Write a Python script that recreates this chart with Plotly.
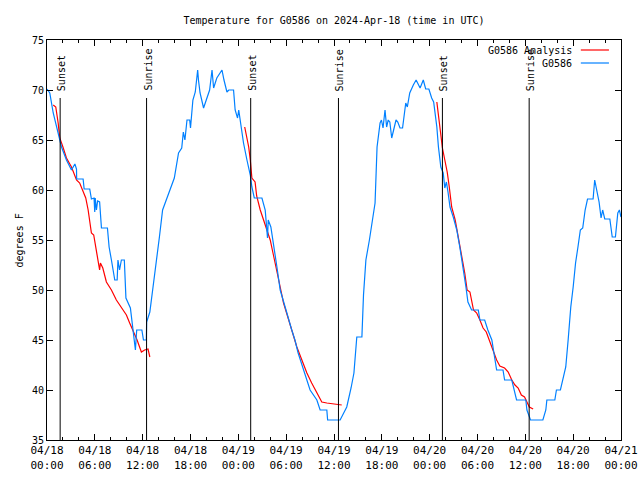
import plotly.graph_objects as go

# ---- data (hours since 2024-04-18 00:00 UTC, degrees F) ----
obs_hours = [0.0, 0.35, 0.78, 1.6, 1.82, 2.44, 3.07, 3.5, 3.7, 3.72, 4.53, 4.66, 5.36, 5.57, 5.9, 5.99, 6.05, 6.2, 6.35, 6.6,
             6.83, 7.58, 7.79, 8.08, 8.5, 8.8, 8.9, 9.1, 9.33, 9.7, 9.9, 10.46, 10.8, 11.09, 11.25, 11.9, 12.1, 12.46, 12.5,
             12.9, 13.3, 13.6, 13.8, 14.1, 14.5, 15.06, 15.5, 15.97, 16.5, 16.9, 17.1, 17.3, 17.56, 17.9, 18.0, 18.3, 18.6,
             18.9, 19.0, 19.2, 19.64, 20.07, 20.4, 20.7, 20.9, 21.3, 21.95, 22.2, 22.57, 22.8, 23.4, 23.6, 23.9, 24.05, 24.3,
             24.65, 25.08, 25.5, 25.7, 26.0, 26.96, 27.37, 27.66, 27.75, 28.08, 28.5, 28.84, 29.25, 29.67, 30.09, 30.7, 31.1,
             31.5, 32.17, 32.6, 33.0, 33.85, 34.26, 35.1, 35.2, 36.77, 37.4, 37.6, 38.14, 38.5, 38.86, 39.5, 39.7, 40.0,
             40.44, 40.74, 41.15, 41.4, 41.78, 41.95, 42.15, 42.4, 42.6, 42.8, 43.0, 43.24, 43.45, 43.78, 44.0, 44.28, 44.6,
             44.8, 45.0, 45.2, 45.5, 45.95, 46.3, 46.55, 46.8, 47.0, 47.2, 47.5, 47.9, 48.25, 48.5, 48.9, 49.1, 49.4, 49.7,
             49.9, 50.1, 50.3, 50.55, 50.96, 51.4, 51.8, 52.2, 52.55, 52.8, 53.26, 54.1, 54.3, 54.9, 55.3, 55.8, 56.2, 56.4,
             57.2, 57.4, 58.3, 58.56, 58.9, 60.06, 60.2, 60.65, 62.2, 62.57, 62.7, 63.7, 63.9, 64.4, 64.7, 65.07, 65.37, 65.7,
             66.0, 66.3, 66.6, 66.9, 67.2, 67.5, 67.8, 68.5, 68.7, 68.9, 69.25, 69.5, 69.7, 69.96, 70.6, 70.9, 71.3, 71.6,
             71.8, 72.0]
obs_temps = [70.1, 69.7, 67.7, 65.0, 64.3, 63.0, 62.0, 62.6, 62.1, 61.1, 61.1, 60.1, 60.1, 59.1, 59.2, 57.8, 59.2, 58.0, 58.9, 58.8,
             56.2, 56.2, 54.3, 53.0, 51.0, 51.0, 53.0, 52.0, 53.0, 53.0, 49.2, 48.2, 46.0, 44.0, 46.0, 46.0, 45.0, 45.0, 46.8,
             47.8, 50.3, 52.0, 53.3, 55.3, 58.0, 59.2, 60.2, 61.2, 63.7, 64.2, 65.8, 65.0, 67.0, 67.0, 66.2, 69.0, 69.8,
             72.0, 71.0, 69.7, 68.2, 69.2, 70.0, 72.0, 70.2, 71.2, 72.0, 71.0, 69.8, 70.0, 70.0, 68.0, 67.2, 68.0, 66.5,
             64.7, 63.0, 61.5, 60.3, 59.2, 59.2, 58.0, 55.2, 57.0, 56.3, 54.3, 52.3, 50.0, 48.7, 47.7, 46.0, 45.0,
             43.7, 42.0, 41.0, 40.0, 39.0, 38.0, 38.0, 37.0, 37.0, 38.0, 38.3, 40.2, 41.7, 45.3, 45.3, 49.5, 53.0,
             55.0, 56.7, 58.7, 64.3, 66.7, 67.0, 66.2, 68.0, 66.3, 67.0, 66.8, 65.2, 66.0, 67.0, 66.8, 66.2, 66.2,
             67.7, 68.7, 68.3, 69.7, 70.5, 71.0, 70.6, 70.2, 70.6, 71.0, 70.1, 70.1, 69.2, 68.8, 66.3, 64.3, 62.3, 61.7,
             60.2, 60.8, 59.8, 58.3, 57.3, 56.0, 54.2, 52.3, 50.3, 48.8, 48.0, 48.0, 47.0, 47.0, 46.0, 45.0, 43.0, 42.0,
             42.0, 41.0, 41.0, 40.0, 39.0, 39.0, 38.0, 37.0, 37.0, 38.0, 39.0, 39.0, 40.0, 40.0, 41.0, 42.3, 45.0, 48.3,
             50.3, 52.7, 54.3, 56.0, 56.2, 58.0, 59.1, 59.1, 61.0, 60.3, 58.8, 57.2, 58.0, 57.1, 57.1, 55.3, 55.3, 57.7,
             58.0, 57.3]

ana_hours = [0.78, 1.1, 1.4, 1.6, 2.0, 2.44, 3.07, 3.7, 4.1, 4.5, 4.86, 5.16, 5.36, 5.57, 5.86, 6.2, 6.4, 6.6, 6.7, 7.0, 7.45,
             8.08, 8.7, 9.33, 9.96, 10.37, 10.87, 11.3, 11.84, 12.25, 12.67, 12.9,
             None,
             24.8, 25.08, 25.3, 25.5, 25.7, 26.1, 26.3, 26.75, 27.16, 27.58, 28.0, 28.4, 28.84, 29.25, 29.67, 30.09, 30.7,
             31.34, 31.97, 32.6, 33.2, 33.85, 34.47, 35.1, 36.1, 36.97,
             None,
             48.9, 49.2, 49.4, 49.6, 49.9, 50.2, 50.46, 50.76, 51.2, 51.6, 52.0, 52.4, 52.7, 53.05, 53.5, 53.9, 54.3, 54.7,
             55.1, 55.55, 55.97, 56.4, 56.8, 57.4, 57.85, 58.3, 58.7, 59.1, 59.5, 59.9, 60.2, 60.5, 60.98]
ana_temps = [68.5, 68.3, 66.7, 65.2, 64.3, 63.2, 62.3, 61.0, 60.7, 60.0, 59.2, 58.0, 57.0, 55.7, 55.5, 54.0, 52.8, 52.0, 52.7, 52.2, 50.8,
             50.0, 49.0, 48.3, 47.5, 46.7, 45.8, 45.0, 43.8, 44.0, 44.1, 43.3,
             None,
             66.3, 65.3, 64.3, 63.0, 61.2, 60.8, 59.4, 58.0, 57.0, 56.0, 55.0, 53.5, 52.0, 50.3, 48.7, 47.5, 46.0,
             44.3, 43.0, 41.7, 40.7, 39.7, 38.8, 38.7, 38.6, 38.5,
             None,
             68.8, 66.7, 65.3, 64.2, 63.0, 61.8, 60.3, 58.3, 57.0, 55.3, 53.7, 51.7, 50.0, 49.8, 48.0, 47.7, 47.0, 46.2,
             45.8, 44.8, 44.0, 43.0, 42.4, 42.2, 41.8, 41.0, 40.5, 40.2, 39.5, 39.3, 38.8, 38.3, 38.1]

event_hours = [1.65, 12.49, 25.55, 36.56, 49.6, 60.48]
event_labels = ["Sunset", "Sunrise", "Sunset", "Sunrise", "Sunset", "Sunrise"]
event_line_top = 69.2

tick_hours = [0, 6, 12, 18, 24, 30, 36, 42, 48, 54, 60, 66, 72]
tick_labels = ["04/18<br>00:00", "04/18<br>06:00", "04/18<br>12:00", "04/18<br>18:00",
               "04/19<br>00:00", "04/19<br>06:00", "04/19<br>12:00", "04/19<br>18:00",
               "04/20<br>00:00", "04/20<br>06:00", "04/20<br>12:00", "04/20<br>18:00",
               "04/21<br>00:00"]
y_ticks = [35, 40, 45, 50, 55, 60, 65, 70, 75]

series_names = ["G0586 Analysis", "G0586"]
series_colors = ["#ff0000", "#0080ff"]

FONT = "DejaVu Sans Mono"

fig = go.Figure()
fig.add_trace(go.Scatter(x=ana_hours, y=ana_temps, mode="lines", name=series_names[0],
                         line=dict(color=series_colors[0], width=1.2), connectgaps=False))
fig.add_trace(go.Scatter(x=obs_hours, y=obs_temps, mode="lines", name=series_names[1],
                         line=dict(color=series_colors[1], width=1.2)))

for t, lab in zip(event_hours, event_labels):
    fig.add_shape(type="line", xref="x", yref="y", x0=t, x1=t, y0=35, y1=event_line_top,
                  line=dict(color="black", width=1))
    fig.add_annotation(x=t, y=event_line_top, xref="x", yref="y", text=lab, textangle=-90,
                       showarrow=False, xanchor="center", yanchor="bottom", yshift=5, xshift=1,
                       font=dict(family=FONT, size=10, color="black"))

# manual gnuplot-style legend (text left of sample)
leg_y = [0.975, 0.9425]
for name, col, yy in zip(series_names, series_colors, leg_y):
    fig.add_annotation(x=0.918, y=yy, xref="paper", yref="paper", text=name, showarrow=False,
                       xanchor="right", yanchor="middle", font=dict(family=FONT, size=10, color="black"))
    fig.add_shape(type="line", xref="paper", yref="paper", x0=0.930, x1=0.979, y0=yy, y1=yy,
                  line=dict(color=col, width=1.2))

fig.add_annotation(x=-0.061, y=0.5, xref="paper", yref="paper", text="degrees F", textangle=-90,
                   showarrow=False, font=dict(family=FONT, size=10, color="black"))

fig.update_layout(
    width=640, height=480,
    margin=dict(l=47, r=19, t=40, b=40, autoexpand=False),
    paper_bgcolor="white", plot_bgcolor="white",
    showlegend=False,
    font=dict(family=FONT, size=10, color="black"),
    title=dict(text="Temperature for G0586 on 2024-Apr-18 (time in UTC)", x=0.5, xanchor="center",
               xref="paper", y=0.958, yanchor="middle", yref="container",
               font=dict(family=FONT, size=10, color="black")),
)
fig.update_xaxes(range=[0, 72], tickvals=tick_hours, ticktext=tick_labels, ticks="inside", ticklen=6,
                 tickcolor="black", showline=True, linecolor="black", linewidth=1, mirror="allticks",
                 showgrid=False, zeroline=False, automargin=False,
                 minor=dict(ticks="inside", dtick=2, ticklen=3, tickcolor="black", showgrid=False),
                 tickfont=dict(family=FONT, size=11))
fig.update_yaxes(range=[35, 75], tickvals=y_ticks, ticks="inside", ticklen=6, tickcolor="black",
                 showline=True, linecolor="black", linewidth=1, mirror="allticks", automargin=False,
                 showgrid=False, zeroline=False, tickfont=dict(family=FONT, size=10))

fig.write_html("out.html")
